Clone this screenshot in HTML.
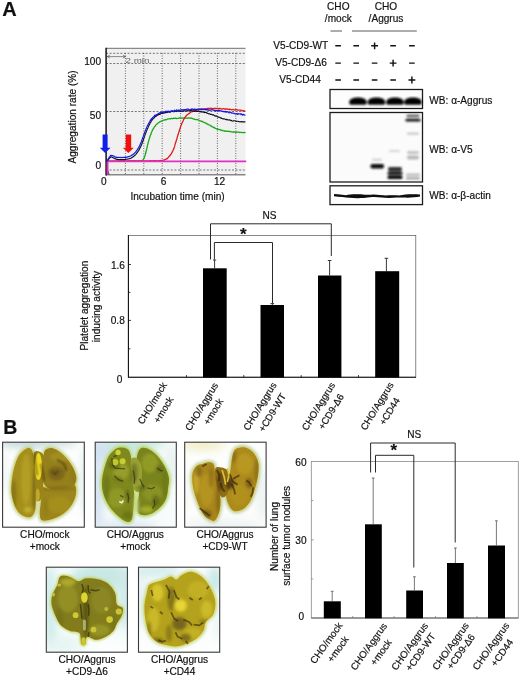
<!DOCTYPE html>
<html><head><meta charset="utf-8"><title>Figure</title>
<style>
html,body{margin:0;padding:0;background:#fff;}
body{width:520px;height:676px;overflow:hidden;}
svg{display:block;}
text{font-family:"Liberation Sans",sans-serif;fill:#111;stroke:#111;stroke-width:0.18px;}
.t{font-size:10.1px;}
.s{font-size:9.6px;}
</style></head><body>
<svg width="520" height="676" viewBox="0 0 520 676">
<defs>
<filter id="b1" x="-20%" y="-20%" width="140%" height="140%"><feGaussianBlur stdDeviation="0.9"/></filter>
<filter id="b2" x="-20%" y="-20%" width="140%" height="140%"><feGaussianBlur stdDeviation="1.6"/></filter>
<filter id="b05" x="-20%" y="-20%" width="140%" height="140%"><feGaussianBlur stdDeviation="0.5"/></filter>
<filter id="b03" x="-5%" y="-5%" width="110%" height="110%"><feGaussianBlur stdDeviation="0.3"/></filter>
</defs>
<rect width="520" height="676" fill="#fff"/>

<!-- ===== Panel letters ===== -->
<text x="2.200" y="16" font-size="20" font-weight="bold" fill="#000" stroke="#000" stroke-width="0.600" stroke-linejoin="round">A</text>
<text x="3.200" y="434.200" font-size="19.5" font-weight="bold" fill="#000" stroke="#000" stroke-width="0.400" stroke-linejoin="round">B</text>

<!-- ===== A: aggregation trace ===== -->
<g id="agg">
<rect x="106" y="48" width="139.5" height="127" fill="#f0f0f0"/>
<g stroke="#555" stroke-width="0.8" stroke-dasharray="2 1.6" fill="none">
<path d="M106 53.300H245.5M106 63.500H245.5M106 111.5H245.5M106 170H245.5"/>
</g>
<g stroke="#444" stroke-width="0.8" stroke-dasharray="1 1.5" fill="none">
<path d="M125.4 53V175M143.8 53V175M162.2 53V175M180.6 53V175M199 53V175M217.4 53V175M235.8 53V175"/>
</g>
<path d="M106 48.400H245.5" stroke="#8a8a8a" stroke-width="1.4" fill="none"/>
<path d="M106 174.800H245.5" stroke="#888" stroke-width="1.500" fill="none"/>
<path d="M106.100 47.700V175.500" stroke="#111" stroke-width="1.5" fill="none"/>
<!-- 2 min marker -->
<path d="M107.200 56.600H125.600M107.200 56.600l2.600-1.400M107.200 56.600l2.600 1.400M125.600 56.600l-2.600-1.400M125.600 56.600l-2.600 1.400" stroke="#444" stroke-width="0.600" fill="none"/>
<text x="125.500" y="63.200" font-size="8" style="fill:#666;stroke:none" textLength="24" lengthAdjust="spacingAndGlyphs">2 min</text>
<!-- traces -->
<g fill="none" stroke-linejoin="round" stroke-linecap="round">
<path d="M106.5 173.5 L108 171 L109 174.5" stroke="#223" stroke-width="0.9"/>
<path id="grn" d="M106.5 161.3L107.2 161.2L107.9 161.3L108.6 161.2L109.3 161.3L110.0 161.2L110.7 161.2L111.4 161.3L112.1 161.1L112.8 161.2L113.5 161.1L114.2 161.1L114.9 161.2L115.7 161.3L116.4 161.1L117.1 161.1L117.8 161.2L118.5 161.3L119.2 161.2L119.9 161.2L120.6 161.3L121.3 161.1L122.0 161.3L122.7 161.1L123.4 161.1L124.1 161.1L124.8 161.1L125.5 161.2L126.2 161.1L126.9 161.1L127.6 161.1L128.3 161.1L129.0 161.1L129.7 161.0L130.4 161.0L131.1 161.0L131.8 161.1L132.6 161.1L133.3 161.0L134.0 161.1L134.7 161.0L135.4 161.0L136.1 161.1L136.8 161.1L137.5 161.0L138.2 161.0L138.9 161.0L139.6 161.1L140.3 161.1L141.0 160.9L141.4 161.0L141.7 160.7L142.1 160.6L142.4 160.5L142.7 160.0L143.0 159.8L143.3 159.4L143.5 159.2L143.8 158.8L144.0 158.3L144.2 157.9L144.4 157.3L144.6 156.8L144.8 156.2L145.0 155.6L145.2 155.0L145.4 154.4L145.6 153.8L145.7 153.0L145.9 152.3L146.1 151.4L146.3 150.8L146.5 150.0L146.7 149.4L146.8 148.6L147.0 147.8L147.1 147.1L147.3 146.5L147.4 145.6L147.6 145.0L147.8 144.3L147.9 143.6L148.1 142.9L148.3 142.5L148.4 141.7L148.6 141.1L148.8 140.5L149.0 140.0L149.1 139.2L149.3 138.7L149.5 138.1L149.7 137.6L149.8 137.0L150.0 136.6L150.2 135.7L150.4 135.2L150.6 134.7L150.8 134.5L151.0 134.0L151.2 133.0L151.4 132.5L151.6 132.1L151.8 131.6L152.0 131.3L152.2 130.9L152.4 130.3L152.6 129.7L152.8 129.6L153.0 129.1L153.2 128.8L153.5 128.7L153.7 128.2L153.9 127.7L154.1 127.4L154.3 127.1L154.6 126.4L154.8 126.6L155.0 126.2L155.3 126.0L155.5 125.7L155.8 125.2L156.0 124.9L156.4 124.4L156.7 124.4L157.1 123.7L157.5 123.4L158.0 123.1L158.4 122.8L158.8 122.6L159.2 122.2L159.7 121.9L160.2 121.7L160.6 121.4L161.1 121.3L161.6 120.9L162.1 121.2L162.6 120.8L163.1 120.3L163.6 120.2L164.2 120.1L164.7 119.9L165.3 119.6L165.8 119.9L166.4 119.8L166.9 119.4L167.5 119.2L168.1 118.9L168.7 118.8L169.3 118.8L169.9 118.7L170.5 118.9L171.1 118.5L171.7 118.3L172.4 118.8L173.0 118.5L173.8 118.2L174.5 118.4L175.3 118.1L176.0 118.3L176.8 118.5L177.5 118.4L178.3 118.3L179.0 118.0L179.7 118.0L180.4 117.8L181.1 118.2L181.8 118.0L182.5 118.1L183.2 117.8L183.9 117.8L184.6 118.1L185.3 118.2L186.0 118.2L186.6 118.2L187.3 118.2L188.0 118.2L188.7 117.9L189.3 118.2L190.0 118.1L190.7 118.0L191.3 118.1L192.0 118.4L192.6 118.5L193.2 118.9L193.8 119.1L194.3 119.0L194.9 119.4L195.5 119.6L196.0 119.7L196.6 119.5L197.1 119.6L197.7 119.7L198.2 119.9L198.7 120.1L199.2 120.5L199.8 120.8L200.3 121.0L200.8 120.9L201.3 121.2L201.8 121.5L202.3 121.3L202.8 121.8L203.2 122.2L203.7 122.3L204.2 122.5L204.7 122.6L205.1 122.6L205.6 123.2L206.1 123.2L206.5 123.7L207.0 124.0L207.5 123.9L207.9 124.2L208.4 124.7L208.8 124.8L209.3 124.8L209.7 125.0L210.2 125.3L210.6 126.0L211.1 126.2L211.5 126.0L212.0 126.7L212.4 127.0L212.9 127.1L213.3 127.1L213.7 127.5L214.2 127.4L214.6 127.6L215.1 128.3L215.5 128.3L216.0 128.5L216.4 128.9L216.9 128.8L217.3 129.2L217.8 129.3L218.3 129.1L218.7 129.3L219.2 129.5L219.7 129.6L220.2 130.0L220.7 129.9L221.2 130.1L221.7 130.1L222.2 130.7L222.7 130.4L223.2 130.6L223.8 130.8L224.3 131.1L224.8 130.9L225.4 131.3L226.0 131.1L226.6 131.2L227.1 131.3L227.7 131.1L228.3 131.4L229.0 131.4L229.6 131.3L230.2 131.9L230.9 131.5L231.6 131.8L232.2 132.0L232.9 132.0L233.6 131.9L234.3 132.0L235.1 132.1L235.8 132.3L236.6 131.9L237.3 132.2L238.1 132.1L238.9 132.1L239.7 132.5L240.6 132.4L241.4 132.4L242.3 132.6L243.2 132.7L244.1 132.4L245.0 132.6" stroke="#18a818" stroke-width="1.3"/>
<path id="red" d="M106.5 161.2L107.2 161.2L107.9 161.2L108.6 161.2L109.3 161.2L110.0 161.2L110.7 161.3L111.4 161.2L112.1 161.2L112.8 161.3L113.5 161.1L114.2 161.2L114.9 161.2L115.7 161.2L116.4 161.0L117.1 161.0L117.8 161.1L118.5 161.0L119.2 161.0L119.9 161.0L120.6 161.1L121.3 161.2L122.0 161.2L122.7 161.0L123.4 161.1L124.1 161.1L124.8 161.0L125.5 161.1L126.2 161.2L126.9 161.0L127.6 161.2L128.3 161.0L129.0 161.0L129.7 161.1L130.4 161.1L131.1 160.9L131.8 161.0L132.5 161.0L133.2 161.0L134.0 160.9L134.7 160.9L135.4 161.0L136.1 160.9L136.8 161.0L137.5 161.0L138.2 160.8L138.9 160.9L139.6 161.0L140.3 161.0L141.0 160.8L141.7 161.1L142.4 161.0L143.1 161.0L143.8 160.8L144.5 160.9L145.2 160.8L145.9 161.0L146.6 160.8L147.3 160.8L148.0 160.9L148.7 161.0L149.4 161.0L150.1 160.7L150.8 160.7L151.6 161.1L152.3 160.9L153.0 161.0L153.7 160.6L154.4 160.6L155.1 160.9L155.8 160.8L156.5 160.6L157.2 161.1L157.9 160.9L158.6 161.0L159.3 160.6L160.0 161.0L160.5 160.5L160.9 161.0L161.4 160.7L161.8 160.5L162.3 160.6L162.7 160.7L163.1 160.2L163.5 160.0L164.0 160.2L164.4 159.9L164.8 159.6L165.1 159.5L165.5 159.2L165.9 159.1L166.3 159.0L166.7 158.7L167.0 158.8L167.4 158.2L167.8 158.0L168.1 157.5L168.5 157.3L168.8 156.7L169.1 156.5L169.5 156.0L169.8 156.0L170.1 155.4L170.5 154.7L170.8 154.4L171.1 154.2L171.5 153.1L171.8 153.0L172.1 152.2L172.4 151.6L172.7 151.1L173.1 150.2L173.4 149.5L173.7 148.9L174.0 148.3L174.2 147.3L174.4 147.0L174.6 146.4L174.8 145.7L174.9 145.0L175.1 144.4L175.3 143.6L175.5 143.1L175.7 142.4L175.9 142.2L176.1 141.3L176.2 140.7L176.4 140.0L176.6 139.9L176.8 139.3L176.9 138.6L177.1 137.8L177.3 137.1L177.5 136.6L177.7 136.1L177.8 135.3L178.0 134.9L178.2 134.2L178.4 134.0L178.5 133.4L178.7 132.6L178.9 131.9L179.1 131.7L179.3 130.8L179.4 130.2L179.6 129.5L179.8 129.1L180.0 128.6L180.2 128.1L180.4 127.4L180.5 127.0L180.7 126.2L180.9 125.8L181.1 125.2L181.3 124.9L181.5 124.2L181.7 123.7L181.9 123.4L182.1 122.8L182.3 122.6L182.5 122.1L182.7 121.8L182.9 121.3L183.1 120.9L183.3 120.5L183.5 119.8L183.7 119.4L183.9 119.4L184.2 118.5L184.4 118.5L184.6 118.0L184.8 117.3L185.1 117.5L185.3 117.2L185.5 116.7L185.8 116.4L186.0 116.2L186.4 115.4L186.7 115.3L187.1 114.9L187.5 114.7L187.9 114.4L188.3 114.1L188.7 113.6L189.1 113.5L189.6 113.1L190.0 112.9L190.5 112.3L190.9 112.0L191.4 111.8L191.9 111.7L192.4 111.3L192.9 111.6L193.4 111.2L193.9 111.1L194.4 110.9L194.9 110.8L195.5 110.5L196.0 110.1L196.6 110.4L197.1 110.2L197.7 109.9L198.2 109.8L198.8 109.8L199.4 109.3L200.0 109.6L200.6 109.2L201.2 109.0L201.8 109.0L202.4 109.2L203.0 108.8L203.4 109.1L203.9 109.2L204.3 108.9L204.8 108.8L205.3 108.8L205.7 108.9L206.2 108.9L206.7 108.8L207.2 108.7L207.7 108.4L208.2 108.4L208.7 108.4L209.2 108.7L209.7 108.4L210.3 108.6L210.8 108.2L211.4 108.3L211.9 108.4L212.5 108.6L213.1 108.6L213.6 108.6L214.2 108.4L214.8 108.5L215.4 108.5L216.0 108.5L216.7 108.3L217.3 108.8L217.9 108.4L218.6 108.9L219.2 108.9L219.9 108.4L220.5 108.7L221.2 108.9L221.9 109.1L222.6 108.8L223.3 108.7L224.0 108.7L224.7 109.2L225.5 108.8L226.2 109.1L227.0 108.9L227.7 109.2L228.5 109.5L229.3 109.1L230.1 109.6L230.9 109.5L231.7 109.8L232.5 109.7L233.3 109.5L234.2 110.0L235.0 109.8L235.9 109.7L236.7 109.7L237.6 110.1L238.5 110.2L239.4 110.2L240.3 110.2L241.2 110.4L242.1 110.5L243.1 111.0L244.0 110.6L245.0 111.2" stroke="#e01818" stroke-width="1.3"/>
<path d="M107.600 174 V161.300 H245.5" stroke="#e030c4" stroke-width="1.800"/>
<path id="blk" d="M106.5 161.3L106.9 160.9L107.3 160.8L107.6 160.4L108.0 160.0L108.4 159.4L108.8 159.0L109.1 158.5L109.5 158.3L109.9 157.8L110.2 157.4L110.6 157.2L111.0 156.9L111.5 156.9L112.0 157.1L112.5 157.5L112.9 157.6L113.4 158.0L113.9 158.1L114.4 158.4L114.9 158.8L115.5 158.9L116.2 159.1L117.0 159.4L117.7 159.4L118.3 159.5L119.0 159.5L119.7 159.6L120.4 159.6L121.1 159.5L121.8 159.6L122.5 159.4L123.1 159.6L123.8 159.5L124.5 159.6L125.2 159.5L125.9 159.3L126.6 159.2L127.2 159.3L127.9 159.0L128.5 159.0L129.1 158.8L129.7 158.6L130.3 158.5L130.9 158.3L131.5 157.8L132.0 157.6L132.4 157.3L132.8 157.1L133.1 156.8L133.5 156.5L133.8 156.2L134.2 155.9L134.5 155.8L134.8 155.4L135.2 155.0L135.5 154.9L135.8 154.5L136.1 154.0L136.4 153.6L136.7 153.2L137.0 152.8L137.3 152.5L137.6 152.1L137.8 151.7L138.1 151.3L138.4 150.9L138.6 150.6L138.9 150.1L139.2 149.6L139.4 149.1L139.7 148.7L139.9 148.1L140.2 147.6L140.4 147.1L140.7 146.6L140.9 146.3L141.1 145.5L141.4 145.1L141.6 144.6L141.8 144.1L142.1 143.3L142.3 142.7L142.5 142.1L142.8 141.6L143.0 141.0L143.2 140.4L143.5 139.7L143.7 139.0L143.9 138.1L144.2 137.5L144.4 137.0L144.6 136.4L144.8 135.7L145.0 135.1L145.3 134.3L145.5 133.8L145.7 133.4L145.9 132.8L146.1 132.2L146.3 131.7L146.6 130.9L146.8 130.3L147.0 129.8L147.2 129.4L147.4 128.9L147.6 128.5L147.9 127.9L148.1 127.4L148.3 126.9L148.5 126.4L148.7 125.9L149.0 125.3L149.2 125.1L149.4 124.5L149.6 124.3L149.9 123.8L150.1 123.2L150.3 122.6L150.6 122.3L150.8 122.2L151.0 121.9L151.3 121.1L151.5 120.7L151.8 120.6L152.0 120.3L152.3 119.8L152.5 119.4L152.8 119.3L153.0 118.6L153.3 118.4L153.6 118.2L153.9 118.3L154.1 117.8L154.4 117.6L154.7 117.1L155.0 116.6L155.4 116.3L155.9 116.5L156.3 116.1L156.8 115.5L157.2 115.1L157.7 115.2L158.2 115.0L158.6 114.6L159.1 114.3L159.6 114.4L160.1 114.4L160.6 113.7L161.1 113.4L161.7 113.4L162.2 113.3L162.7 113.4L163.3 112.9L163.8 113.2L164.4 113.0L164.9 112.7L165.5 112.4L166.1 112.8L166.7 112.2L167.2 112.5L167.8 112.0L168.4 111.9L169.1 112.2L169.7 111.8L170.3 112.2L170.9 111.8L171.6 111.5L172.2 111.5L172.8 111.5L173.5 111.7L174.2 111.8L174.8 111.2L175.5 111.3L176.2 111.2L176.9 111.6L177.6 111.0L178.3 110.9L179.0 110.9L179.8 111.1L180.6 111.4L181.4 111.3L182.1 111.2L182.9 111.3L183.6 111.2L184.4 110.8L185.1 110.7L185.8 111.2L186.5 111.0L187.2 110.5L187.9 111.0L188.6 110.8L189.3 110.8L189.9 110.7L190.6 110.6L191.3 110.5L191.9 110.8L192.6 110.8L193.2 111.3L193.9 110.7L194.5 111.4L195.1 110.9L195.8 111.1L196.4 111.4L197.0 111.5L197.7 111.3L198.3 111.1L198.9 111.5L199.5 111.5L200.2 112.0L200.8 111.5L201.4 111.8L202.1 112.2L202.7 111.7L203.4 112.1L204.0 112.5L204.6 112.6L205.2 112.3L205.9 112.5L206.5 112.6L207.1 113.4L207.6 113.1L208.2 113.6L208.8 113.9L209.4 113.7L209.9 113.8L210.5 114.5L211.0 114.4L211.6 114.4L212.1 114.9L212.7 114.8L213.2 114.9L213.7 114.9L214.2 115.6L214.8 115.9L215.3 115.9L215.8 116.3L216.3 115.9L216.8 116.2L217.3 116.6L217.8 117.1L218.3 117.3L218.7 117.0L219.2 117.1L219.7 117.4L220.2 117.7L220.7 118.1L221.2 117.8L221.6 118.4L222.1 118.5L222.6 118.7L223.1 118.9L223.5 118.9L224.0 118.9L224.7 119.0L225.4 119.2L226.1 119.7L226.7 119.4L227.4 119.6L228.1 120.1L228.7 119.9L229.4 119.9L230.0 120.0L230.6 120.5L231.2 120.4L231.9 121.0L232.5 121.0L233.1 121.2L233.7 120.7L234.3 120.7L234.9 120.8L235.5 121.1L236.1 121.4L236.7 121.2L237.2 121.2L237.8 121.3L238.4 121.5L239.0 121.6L239.6 121.7L240.2 121.9L240.8 121.8L241.4 121.5L242.0 122.0L242.6 121.7L243.2 121.9L243.8 121.8L244.4 122.1L245.0 121.8" stroke="#0c0c1c" stroke-width="1.1"/>
<path id="blu" d="M106.5 160.9L106.8 160.6L107.1 160.3L107.5 160.2L107.8 159.6L108.1 159.0L108.4 158.5L108.8 158.3L109.1 157.5L109.4 156.9L109.7 156.7L110.0 156.2L110.4 156.0L110.7 155.3L111.0 155.3L111.5 155.5L112.0 155.6L112.5 155.8L112.9 155.6L113.4 156.0L113.9 156.1L114.4 156.4L114.9 157.0L115.5 157.1L116.2 157.4L117.0 157.2L117.7 157.5L118.4 157.3L119.0 157.3L119.7 157.5L120.4 157.6L121.1 157.3L121.7 157.5L122.4 157.5L123.1 157.4L123.7 157.4L124.4 157.3L125.0 157.3L125.7 157.2L126.3 157.3L126.9 157.2L127.5 156.9L128.1 156.7L128.7 156.7L129.3 156.6L129.9 156.2L130.4 156.0L131.0 155.7L131.4 155.7L131.8 155.4L132.1 154.9L132.5 154.7L132.9 154.5L133.2 154.3L133.6 154.1L133.9 153.6L134.2 153.3L134.6 153.2L134.9 152.8L135.2 152.4L135.5 152.0L135.8 152.0L136.1 151.3L136.4 151.1L136.7 150.6L137.0 150.2L137.2 150.0L137.5 149.7L137.8 148.9L138.1 148.4L138.3 148.2L138.6 147.5L138.8 147.0L139.1 146.9L139.3 146.2L139.6 145.8L139.8 145.1L140.1 144.8L140.3 144.1L140.6 143.4L140.8 142.8L141.1 142.5L141.3 141.9L141.5 141.4L141.8 140.4L142.0 140.1L142.2 139.2L142.5 138.6L142.7 137.8L142.9 137.2L143.2 136.6L143.4 136.2L143.6 135.2L143.8 134.7L144.0 134.2L144.3 133.7L144.5 132.8L144.7 132.2L144.9 131.9L145.1 131.4L145.3 130.6L145.6 129.9L145.8 129.8L146.0 129.0L146.2 128.7L146.4 128.1L146.6 127.7L146.9 126.9L147.1 126.7L147.3 126.0L147.5 125.6L147.7 125.3L148.0 124.9L148.2 124.2L148.4 123.8L148.6 123.4L148.9 123.1L149.1 122.6L149.3 122.1L149.6 121.8L149.8 121.6L150.0 121.5L150.3 120.2L150.5 120.5L150.8 120.3L151.0 119.2L151.3 119.7L151.5 118.6L151.8 118.8L152.0 118.4L152.3 118.2L152.6 117.5L152.9 117.4L153.1 117.2L153.4 116.8L153.7 116.8L154.0 116.2L154.4 115.9L154.9 115.2L155.3 115.6L155.8 115.1L156.2 114.6L156.7 114.9L157.2 114.7L157.6 114.1L158.1 113.6L158.6 113.7L159.1 113.1L159.6 112.9L160.1 113.1L160.7 112.5L161.2 112.8L161.7 112.7L162.3 112.0L162.8 112.5L163.4 111.8L163.9 112.3L164.5 112.3L165.1 111.8L165.7 111.2L166.2 111.6L166.8 111.4L167.4 111.9L168.1 110.9L168.7 111.6L169.3 111.7L169.9 111.3L170.6 111.3L171.2 110.6L171.8 111.4L172.5 110.7L173.2 111.2L173.8 111.1L174.5 110.2L175.2 110.8L175.9 110.9L176.6 109.9L177.3 110.2L178.0 110.6L178.8 109.9L179.5 110.6L180.3 109.9L181.0 110.4L181.8 109.6L182.5 109.9L183.3 110.3L184.0 109.5L184.8 109.5L185.5 109.7L186.2 109.5L186.9 109.1L187.7 109.2L188.4 109.2L189.1 110.0L189.8 109.7L190.5 109.9L191.2 109.0L191.9 109.7L192.6 108.9L193.3 109.3L194.0 109.4L194.6 109.1L195.3 109.6L196.0 109.3L196.7 109.3L197.3 109.6L198.0 108.8L198.6 109.8L199.3 109.4L200.0 109.1L200.6 109.6L201.2 109.0L201.9 109.8L202.5 109.4L203.1 109.2L203.8 109.7L204.4 109.4L205.0 109.1L205.7 109.8L206.4 109.1L207.1 110.1L207.8 109.5L208.5 110.0L209.2 110.5L209.9 110.1L210.6 110.2L211.3 109.9L211.9 109.7L212.6 109.8L213.3 110.0L214.0 110.5L214.7 110.4L215.3 110.6L216.0 111.1L216.7 110.3L217.3 110.5L218.0 111.0L218.7 110.4L219.3 110.5L219.9 110.9L220.6 110.7L221.2 111.1L221.9 111.0L222.5 111.5L223.1 111.6L223.7 111.3L224.3 111.8L224.9 111.7L225.5 111.4L226.1 112.4L226.7 111.7L227.2 111.7L227.8 111.8L228.4 112.5L228.9 112.8L229.4 112.8L230.0 112.5L230.5 112.4L231.0 112.3L231.5 113.1L232.0 113.1L232.8 113.0L233.7 113.4L234.5 113.3L235.2 114.0L236.0 113.9L236.7 113.5L237.4 114.3L238.0 113.5L238.7 114.1L239.3 114.0L239.9 113.9L240.5 113.8L241.1 114.7L241.6 113.9L242.2 114.6L242.7 115.1L243.2 114.3L243.7 114.5L244.1 115.0L244.6 114.9L245.0 115.2" stroke="#1818e0" stroke-width="1.2"/>
</g>
<!-- arrows -->
<path d="M102.600 134.400H107.600V147.800H110.600L105.100 153L99.800 147.800H102.600Z" fill="#1020e8"/>
<path d="M125.700 134.400H131.200V147.800H133.700L128.300 153L122.900 147.800H125.700Z" fill="#f01010"/>
<!-- axis labels -->
<text class="t" x="101" y="65.400" text-anchor="end">100</text>
<text class="t" x="101" y="118.500" text-anchor="end">50</text>
<text class="t" x="101" y="168.500" text-anchor="end">0</text>
<text class="t" x="103.900" y="184.800" text-anchor="middle">0</text>
<text class="t" x="163.600" y="185" text-anchor="middle">6</text>
<text class="t" x="219.600" y="185" text-anchor="middle">12</text>
<text class="t" x="177.5" y="199.6" text-anchor="middle">Incubation time (min)</text>
<text class="t" transform="translate(76,117) rotate(-90)" text-anchor="middle">Aggregation rate (%)</text>
</g>

<!-- ===== A: western blot ===== -->
<g id="wb">
<text class="t" x="338.3" y="10" text-anchor="middle">CHO</text>
<text class="t" x="338.3" y="22.4" text-anchor="middle">/mock</text>
<text class="t" x="386" y="10" text-anchor="middle">CHO</text>
<text class="t" x="386" y="22.4" text-anchor="middle">/Aggrus</text>
<path d="M330.5 31H342" stroke="#5a5a5a" stroke-width="1" fill="none"/>
<path d="M352 31H416.800" stroke="#5a5a5a" stroke-width="1" fill="none"/>
<text class="t" x="328.3" y="49.3" text-anchor="end">V5-CD9-WT</text>
<text class="t" x="326.8" y="66.4" text-anchor="end">V5-CD9-Δ6</text>
<text class="t" x="320.8" y="83.4" text-anchor="end">V5-CD44</text>
<g stroke="#111" stroke-width="1.45" fill="none">
<path d="M335.3 45.8h5.6M353.4 45.8h5.6M371.2 45.8h6.8M374.6 42.4v6.8M390.3 45.8h5.6M409.1 45.8h5.6"/>
<path d="M335.3 63.1h5.6M353.4 63.1h5.6M371.8 63.1h5.6M389.7 63.1h6.8M393.1 59.7v6.8M409.1 63.1h5.6"/>
<path d="M335.3 80.0h5.6M353.4 80.0h5.6M371.8 80.0h5.6M390.3 80.0h5.6M408.5 80.0h6.8M411.9 76.6v6.8"/>
</g>
<!-- blot 1 -->
<rect x="330" y="89.5" width="92.5" height="19" fill="#fdfdfd" stroke="#1c1c1c" stroke-width="1.3"/>
<g filter="url(#b1)" fill="#030303">
<path d="M358.0 104.800 h-6.5 c-2.4 0 -2.6 -2.400 -2 -3.800 c0.8 -2.2 4 -3.400 8.500 -3.400 s7.700 1.200 8.500 3.400 c0.600 1.400 0.400 3.800 -2 3.800z"/>
<path d="M376.5 104.800 h-6.5 c-2.4 0 -2.6 -2.400 -2 -3.800 c0.8 -2.2 4 -3.400 8.500 -3.400 s7.700 1.200 8.500 3.400 c0.600 1.400 0.400 3.800 -2 3.800z"/>
<path d="M395.0 104.800 h-6.5 c-2.4 0 -2.6 -2.400 -2 -3.800 c0.8 -2.2 4 -3.400 8.500 -3.400 s7.700 1.200 8.500 3.400 c0.600 1.400 0.400 3.800 -2 3.800z"/>
<path d="M413.0 104.800 h-6.5 c-2.4 0 -2.6 -2.400 -2 -3.800 c0.8 -2.2 4 -3.400 8.500 -3.400 s7.700 1.200 8.500 3.400 c0.600 1.400 0.400 3.800 -2 3.800z"/>
</g>
<!-- blot 2 -->
<rect x="330" y="112.5" width="92.5" height="69.5" fill="#fbfbfb" stroke="#1c1c1c" stroke-width="1.3"/>
<g filter="url(#b1)">
<rect x="370.5" y="164" width="13.5" height="4.6" rx="1.8" fill="#0a0a0a"/>
<rect x="372" y="158.8" width="10" height="2" rx="1" fill="#ccc"/>
<rect x="389" y="150" width="11" height="2" rx="1" fill="#d4d4d4"/>
<rect x="388" y="167" width="14" height="4.5" rx="2" fill="#333"/>
<rect x="387.5" y="171.8" width="15" height="3" rx="1.5" fill="#111"/>
<rect x="387.5" y="175.6" width="15" height="3.4" rx="1.5" fill="#050505"/>
<rect x="406.5" y="114.6" width="13" height="2.6" rx="1.2" fill="#666"/>
<rect x="405.5" y="118.8" width="15" height="2.8" rx="1.2" fill="#111"/>
<rect x="407" y="132.8" width="12" height="1.8" rx="0.9" fill="#bbb"/>
<rect x="407" y="151" width="12" height="3" rx="1.4" fill="#c4c4c4"/>
<rect x="407" y="155.5" width="12" height="4" rx="1.8" fill="#b8b8b8"/>
<rect x="406" y="173.5" width="14" height="2.4" rx="1.2" fill="#bbb"/>
<rect x="406" y="177" width="14" height="2.6" rx="1.2" fill="#a8a8a8"/>
</g>
<!-- blot 3 -->
<rect x="330" y="185.8" width="92.5" height="18.8" fill="#fdfdfd" stroke="#1c1c1c" stroke-width="1.3"/>
<g filter="url(#b05)" fill="#080808">
<path d="M334 194 C338 194.200 342 195 346 195.200 C350 194.200 358 194 365 194.800 C368 195 370 194.600 373 194.400 C378 194.400 382 195.200 386 195.400 C390 195.200 394 195.200 399 195.400 C403 194.800 408 194.200 413 194.200 C416 194.200 418 194.400 420 194.600 L420 196.600 C416 197.200 410 197.800 405 197.600 C401 197.500 399 197.300 396 197.600 C390 198.200 386 198 382 197.500 C378 197.200 374 196.800 370 197.300 C364 198.200 356 198.400 350 197.800 C345 197.300 340 196.800 334 196.200 Z"/>
</g>
<text class="t" x="429.3" y="103.6">WB: α-Aggrus</text>
<text class="t" x="429.3" y="153">WB: α-V5</text>
<text class="t" x="429.3" y="198.6">WB: α-β-actin</text>
</g>

<!-- ===== A: bar chart ===== -->
<g id="barA">
<rect x="128.400" y="235.400" width="287.400" height="141.800" fill="none" stroke="#555" stroke-width="0.7"/>
<path d="M128.400 235V377.200H416" stroke="#111" stroke-width="1.100" fill="none"/>
<path d="M128.400 264.500h2.600M128.400 292.400h2M128.400 320.400h2.600M128.400 348.800h2" stroke="#111" stroke-width="0.8" fill="none"/>
<path d="M186.5 377.3v-2.2M243.8 377.3v-2.2M301.2 377.3v-2.2M358.5 377.3v-2.2" stroke="#111" stroke-width="0.8" fill="none"/>
<g fill="#000">
<rect x="203" y="268.3" width="23.7" height="109.2"/>
<rect x="260.5" y="305" width="23.5" height="72.5"/>
<rect x="318" y="275.5" width="23.4" height="102"/>
<rect x="375.2" y="271.2" width="24" height="106.3"/>
</g>
<g stroke="#222" stroke-width="0.9" fill="none">
<path d="M214.6 268.5V260M213 260h3.2"/>
<path d="M272.3 305V303.6M270.5 303.6h3.6"/>
<path d="M329.6 275.5V260.5M327.8 260.5h3.6"/>
<path d="M386.4 271.2V258.3M384.6 258.3h3.6"/>
</g>
<g stroke="#2a2a2a" stroke-width="1" fill="none">
<path d="M210.5 259.5V223.8H331.3V256"/>
<path d="M214.4 259.5V242.5H272.5V303"/>
</g>
<text class="t" x="269.5" y="218.6" text-anchor="middle">NS</text>
<text x="243.4" y="240" text-anchor="middle" font-size="17" font-weight="bold" fill="#000">*</text>
<text class="t" x="125" y="268.500" text-anchor="end">1.6</text>
<text class="t" x="124.800" y="324.200" text-anchor="end">0.8</text>
<text class="t" x="122.300" y="383" text-anchor="end">0</text>
<text class="t" transform="translate(88.300,305.600) rotate(-90)" text-anchor="middle">Platelet aggregation</text>
<text class="t" transform="translate(100.3,306.500) rotate(-90)" text-anchor="middle">inducing activity</text>
<g class="s" id="labA" text-anchor="middle">
<text transform="translate(155.1,404.9) rotate(-58.5)">CHO/mock</text>
<text transform="translate(166.3,411.5) rotate(-58.5)">+mock</text>
<text transform="translate(204.4,408.3) rotate(-58.5)">CHO/Aggrus</text>
<text transform="translate(216.0,413.4) rotate(-58.5)">+mock</text>
<text transform="translate(262.7,408.1) rotate(-58.5)">CHO/Aggrus</text>
<text transform="translate(275.0,414.3) rotate(-58.5)">+CD9-WT</text>
<text transform="translate(321.3,408.1) rotate(-58.5)">CHO/Aggrus</text>
<text transform="translate(333.8,413.4) rotate(-58.5)">+CD9-Δ6</text>
<text transform="translate(379.9,407.8) rotate(-58.5)">CHO/Aggrus</text>
<text transform="translate(392.3,413.0) rotate(-58.5)">+CD44</text>
</g>
</g>

<!-- ===== B: bar chart ===== -->
<g id="barB">
<rect x="311.3" y="461.5" width="207" height="156.5" fill="none" stroke="#888" stroke-width="0.8"/>
<path d="M311.3 618H518.3" stroke="#666" stroke-width="1.1" fill="none"/>
<path d="M311.3 500.6h2M311.3 539.8h2.4M311.3 578.9h2" stroke="#777" stroke-width="0.7" fill="none"/>
<path d="M352.7 618v-2M394.1 618v-2M435.5 618v-2M476.9 618v-2" stroke="#777" stroke-width="0.7" fill="none"/>
<g fill="#000">
<rect x="323.8" y="601.3" width="17" height="17"/>
<rect x="365" y="524.3" width="16.8" height="94"/>
<rect x="406.2" y="590.5" width="16.8" height="27.8"/>
<rect x="447" y="563" width="16.8" height="55.3"/>
<rect x="488" y="545.5" width="17" height="72.8"/>
</g>
<g stroke="#555" stroke-width="0.8" fill="none">
<path d="M332.2 601.3V591.3M330.8 591.3h2.8"/>
<path d="M373.2 524.3V478M371.8 478h2.8"/>
<path d="M414.4 590.5V576.8M413 576.8h2.8"/>
<path d="M455.4 563V548M454 548h2.8"/>
<path d="M496.4 545.5V520.8M495 520.8h2.8"/>
</g>
<g stroke="#2a2a2a" stroke-width="1" fill="none">
<path d="M370.6 472.5V443H455.2V542.5"/>
<path d="M375.500 472.5V455.300H413.8V567.5"/>
</g>
<text class="t" x="414.3" y="438" text-anchor="middle">NS</text>
<text x="393.9" y="456" text-anchor="middle" font-size="17" font-weight="bold" fill="#000">*</text>
<text class="t" x="306.5" y="466" text-anchor="end">60</text>
<text class="t" x="306.5" y="543.6" text-anchor="end">30</text>
<text class="t" x="304" y="619.6" text-anchor="end">0</text>
<text class="t" transform="translate(278.4,536.500) rotate(-90)" text-anchor="middle">Number of lung</text>
<text class="t" transform="translate(290,535.800) rotate(-90)" text-anchor="middle">surface tumor nodules</text>
<g id="labB" text-anchor="middle" font-size="9.8">
<text transform="translate(329.0,645.0) rotate(-54.5)">CHO/mock</text>
<text transform="translate(340.7,651.1) rotate(-54.5)">+mock</text>
<text transform="translate(371.5,648.5) rotate(-54.5)">CHO/Aggrus</text>
<text transform="translate(383.7,654.3) rotate(-54.5)">+mock</text>
<text transform="translate(412.4,648.3) rotate(-54.5)">CHO/Aggrus</text>
<text transform="translate(423.3,654.0) rotate(-54.5)">+CD9-WT</text>
<text transform="translate(453.3,648.2) rotate(-54.5)">CHO/Aggrus</text>
<text transform="translate(463.6,653.5) rotate(-54.5)">+CD9-Δ6</text>
<text transform="translate(493.7,648.2) rotate(-54.5)">CHO/Aggrus</text>
<text transform="translate(504.8,654.6) rotate(-54.5)">+CD44</text>
</g>
</g>
<g id="photos">
<!-- ===== B: lung photographs ===== -->
<defs>
<filter id="pb" x="-10%" y="-10%" width="120%" height="120%"><feGaussianBlur stdDeviation="0.6"/></filter>
<filter id="pb2" x="-30%" y="-30%" width="160%" height="160%"><feGaussianBlur stdDeviation="1.6"/></filter>
<filter id="pb3" x="-40%" y="-40%" width="180%" height="180%"><feGaussianBlur stdDeviation="4"/></filter>
<filter id="pbh" x="-20%" y="-20%" width="140%" height="140%"><feGaussianBlur stdDeviation="1.1"/></filter>
<clipPath id="c1"><rect x="2.6" y="442.2" width="81.7" height="85.0"/></clipPath>
<clipPath id="c2"><rect x="95.2" y="442.2" width="81.1" height="85.0"/></clipPath>
<clipPath id="c3"><rect x="184.7" y="442.2" width="81.4" height="85.0"/></clipPath>
<clipPath id="c4"><rect x="46.3" y="567.2" width="81.1" height="85.0"/></clipPath>
<clipPath id="c5"><rect x="138.5" y="567.2" width="81.2" height="85.0"/></clipPath>
</defs>
<g clip-path="url(#c1)">
<rect x="1" y="441" width="85" height="88" fill="#fdfefd"/>
<g filter="url(#pb3)"><ellipse cx="34.6" cy="441.5" rx="38.1" ry="6.9" fill="#c3dadc"/><ellipse cx="86.5" cy="481.2" rx="5.2" ry="34.6" fill="#dfecec"/><ellipse cx="1.7" cy="472.6" rx="3.8" ry="20.8" fill="#e9f1f2"/><ellipse cx="57.1" cy="441.5" rx="20.8" ry="5.2" fill="#cfe2e0"/></g>
<g filter="url(#pb2)" fill="none" stroke="#c4dcd4" stroke-width="5" opacity="0.7"><path d="M26.8 448.4C29.0 447.6 30.8 447.9 32.0 450.5C33.2 453.0 33.6 458.8 34.1 463.9C34.6 469.1 34.7 475.5 35.0 481.2C35.2 487.0 35.8 493.6 35.8 498.5C35.8 503.5 35.8 507.6 35.0 510.7C34.1 513.7 32.6 516.0 30.8 516.9C29.0 517.8 26.5 517.2 24.2 516.2C22.0 515.2 19.3 513.6 17.3 510.7C15.3 507.7 13.5 502.6 12.5 498.5C11.5 494.5 11.0 491.3 11.3 486.4C11.5 481.5 12.5 474.3 13.8 469.1C15.1 463.9 16.9 458.8 19.0 455.3C21.2 451.8 24.7 449.2 26.8 448.4Z"/><path d="M45.3 450.1C46.8 448.6 49.2 447.5 51.9 448.0C54.6 448.5 58.3 450.6 61.4 453.2C64.6 455.9 68.5 460.1 70.9 463.9C73.4 467.8 75.5 472.6 76.1 476.1C76.8 479.5 76.0 482.6 74.7 484.7C73.5 486.8 71.0 487.6 68.3 488.5C65.7 489.4 62.1 490.2 58.8 490.2C55.5 490.2 51.1 490.0 48.5 488.5C45.8 487.0 44.0 484.5 42.7 481.2C41.5 478.0 40.9 473.2 41.0 469.1C41.1 465.1 42.5 460.2 43.3 457.0C44.0 453.9 43.9 451.6 45.3 450.1Z"/><path d="M43.3 487.3C45.0 486.6 47.7 489.3 51.9 489.4C56.1 489.4 64.5 488.3 68.3 487.6C72.2 487.0 73.9 484.3 75.1 485.6C76.3 486.8 76.4 491.8 75.8 495.1C75.2 498.3 73.7 502.0 71.6 505.1C69.5 508.2 66.4 511.4 63.2 513.8C59.9 516.1 55.5 518.2 51.9 519.3C48.4 520.4 43.9 521.2 41.9 520.2C39.9 519.2 40.0 516.2 39.8 513.4C39.6 510.6 40.4 506.7 40.7 503.4C41.0 500.0 41.1 496.0 41.5 493.4C42.0 490.7 41.5 488.0 43.3 487.3Z"/></g>
<g filter="url(#pbh)" fill="none" stroke="#d6cc3c" stroke-width="2.2" opacity="0.9"><path d="M26.8 448.4C29.0 447.6 30.8 447.9 32.0 450.5C33.2 453.0 33.6 458.8 34.1 463.9C34.6 469.1 34.7 475.5 35.0 481.2C35.2 487.0 35.8 493.6 35.8 498.5C35.8 503.5 35.8 507.6 35.0 510.7C34.1 513.7 32.6 516.0 30.8 516.9C29.0 517.8 26.5 517.2 24.2 516.2C22.0 515.2 19.3 513.6 17.3 510.7C15.3 507.7 13.5 502.6 12.5 498.5C11.5 494.5 11.0 491.3 11.3 486.4C11.5 481.5 12.5 474.3 13.8 469.1C15.1 463.9 16.9 458.8 19.0 455.3C21.2 451.8 24.7 449.2 26.8 448.4Z"/><path d="M45.3 450.1C46.8 448.6 49.2 447.5 51.9 448.0C54.6 448.5 58.3 450.6 61.4 453.2C64.6 455.9 68.5 460.1 70.9 463.9C73.4 467.8 75.5 472.6 76.1 476.1C76.8 479.5 76.0 482.6 74.7 484.7C73.5 486.8 71.0 487.6 68.3 488.5C65.7 489.4 62.1 490.2 58.8 490.2C55.5 490.2 51.1 490.0 48.5 488.5C45.8 487.0 44.0 484.5 42.7 481.2C41.5 478.0 40.9 473.2 41.0 469.1C41.1 465.1 42.5 460.2 43.3 457.0C44.0 453.9 43.9 451.6 45.3 450.1Z"/><path d="M43.3 487.3C45.0 486.6 47.7 489.3 51.9 489.4C56.1 489.4 64.5 488.3 68.3 487.6C72.2 487.0 73.9 484.3 75.1 485.6C76.3 486.8 76.4 491.8 75.8 495.1C75.2 498.3 73.7 502.0 71.6 505.1C69.5 508.2 66.4 511.4 63.2 513.8C59.9 516.1 55.5 518.2 51.9 519.3C48.4 520.4 43.9 521.2 41.9 520.2C39.9 519.2 40.0 516.2 39.8 513.4C39.6 510.6 40.4 506.7 40.7 503.4C41.0 500.0 41.1 496.0 41.5 493.4C42.0 490.7 41.5 488.0 43.3 487.3Z"/></g>
<g filter="url(#pb)">
<path d="M33.7 454.4C34.8 449.5 38.0 451.1 39.8 451.8C41.6 452.6 44.1 453.9 44.6 458.8C45.2 463.7 43.5 475.8 43.3 481.2C43.0 486.7 43.5 488.7 43.3 491.6C43.0 494.5 42.3 497.0 41.5 498.5C40.7 500.1 39.5 501.3 38.4 501.1C37.3 501.0 35.9 501.0 35.1 497.7C34.3 494.4 34.0 488.5 33.7 481.2C33.5 474.0 32.7 459.3 33.7 454.4Z" fill="#9a8418"/>
<path d="M26.8 448.4C29.0 447.6 30.8 447.9 32.0 450.5C33.2 453.0 33.6 458.8 34.1 463.9C34.6 469.1 34.7 475.5 35.0 481.2C35.2 487.0 35.8 493.6 35.8 498.5C35.8 503.5 35.8 507.6 35.0 510.7C34.1 513.7 32.6 516.0 30.8 516.9C29.0 517.8 26.5 517.2 24.2 516.2C22.0 515.2 19.3 513.6 17.3 510.7C15.3 507.7 13.5 502.6 12.5 498.5C11.5 494.5 11.0 491.3 11.3 486.4C11.5 481.5 12.5 474.3 13.8 469.1C15.1 463.9 16.9 458.8 19.0 455.3C21.2 451.8 24.7 449.2 26.8 448.4Z" fill="#a48e1c"/>
<path d="M45.3 450.1C46.8 448.6 49.2 447.5 51.9 448.0C54.6 448.5 58.3 450.6 61.4 453.2C64.6 455.9 68.5 460.1 70.9 463.9C73.4 467.8 75.5 472.6 76.1 476.1C76.8 479.5 76.0 482.6 74.7 484.7C73.5 486.8 71.0 487.6 68.3 488.5C65.7 489.4 62.1 490.2 58.8 490.2C55.5 490.2 51.1 490.0 48.5 488.5C45.8 487.0 44.0 484.5 42.7 481.2C41.5 478.0 40.9 473.2 41.0 469.1C41.1 465.1 42.5 460.2 43.3 457.0C44.0 453.9 43.9 451.6 45.3 450.1Z" fill="#96801c"/>
<path d="M43.3 487.3C45.0 486.6 47.7 489.3 51.9 489.4C56.1 489.4 64.5 488.3 68.3 487.6C72.2 487.0 73.9 484.3 75.1 485.6C76.3 486.8 76.4 491.8 75.8 495.1C75.2 498.3 73.7 502.0 71.6 505.1C69.5 508.2 66.4 511.4 63.2 513.8C59.9 516.1 55.5 518.2 51.9 519.3C48.4 520.4 43.9 521.2 41.9 520.2C39.9 519.2 40.0 516.2 39.8 513.4C39.6 510.6 40.4 506.7 40.7 503.4C41.0 500.0 41.1 496.0 41.5 493.4C42.0 490.7 41.5 488.0 43.3 487.3Z" fill="#9c861c"/>
<ellipse cx="38.4" cy="466.5" rx="3.6" ry="13.5" fill="#ecd820"/>
<ellipse cx="37.7" cy="495.1" rx="2.1" ry="6.6" fill="#bfa82a"/>
</g>
<clipPath id="lc1"><path d="M26.8 448.4C29.0 447.6 30.8 447.9 32.0 450.5C33.2 453.0 33.6 458.8 34.1 463.9C34.6 469.1 34.7 475.5 35.0 481.2C35.2 487.0 35.8 493.6 35.8 498.5C35.8 503.5 35.8 507.6 35.0 510.7C34.1 513.7 32.6 516.0 30.8 516.9C29.0 517.8 26.5 517.2 24.2 516.2C22.0 515.2 19.3 513.6 17.3 510.7C15.3 507.7 13.5 502.6 12.5 498.5C11.5 494.5 11.0 491.3 11.3 486.4C11.5 481.5 12.5 474.3 13.8 469.1C15.1 463.9 16.9 458.8 19.0 455.3C21.2 451.8 24.7 449.2 26.8 448.4Z"/><path d="M45.3 450.1C46.8 448.6 49.2 447.5 51.9 448.0C54.6 448.5 58.3 450.6 61.4 453.2C64.6 455.9 68.5 460.1 70.9 463.9C73.4 467.8 75.5 472.6 76.1 476.1C76.8 479.5 76.0 482.6 74.7 484.7C73.5 486.8 71.0 487.6 68.3 488.5C65.7 489.4 62.1 490.2 58.8 490.2C55.5 490.2 51.1 490.0 48.5 488.5C45.8 487.0 44.0 484.5 42.7 481.2C41.5 478.0 40.9 473.2 41.0 469.1C41.1 465.1 42.5 460.2 43.3 457.0C44.0 453.9 43.9 451.6 45.3 450.1Z"/><path d="M43.3 487.3C45.0 486.6 47.7 489.3 51.9 489.4C56.1 489.4 64.5 488.3 68.3 487.6C72.2 487.0 73.9 484.3 75.1 485.6C76.3 486.8 76.4 491.8 75.8 495.1C75.2 498.3 73.7 502.0 71.6 505.1C69.5 508.2 66.4 511.4 63.2 513.8C59.9 516.1 55.5 518.2 51.9 519.3C48.4 520.4 43.9 521.2 41.9 520.2C39.9 519.2 40.0 516.2 39.8 513.4C39.6 510.6 40.4 506.7 40.7 503.4C41.0 500.0 41.1 496.0 41.5 493.4C42.0 490.7 41.5 488.0 43.3 487.3Z"/></clipPath>
<g filter="url(#pb2)" clip-path="url(#lc1)">
<ellipse cx="26.0" cy="479.5" rx="4.8" ry="26.0" fill="#b8a226" opacity="0.8"/>
<ellipse cx="13.8" cy="495.1" rx="2.4" ry="15.6" fill="#7c6a10" opacity="0.7"/>
<ellipse cx="34.3" cy="489.9" rx="1.6" ry="20.8" fill="#5c4c0c" opacity="0.6"/>
<ellipse cx="56.2" cy="473.5" rx="8.7" ry="7.3" fill="#76601a" opacity="0.8"/>
<ellipse cx="60.6" cy="457.0" rx="10.4" ry="4.8" fill="#a89424" opacity="0.7"/>
<ellipse cx="58.8" cy="488.5" rx="17.3" ry="1.9" fill="#786418" opacity="0.6"/>
<ellipse cx="58.8" cy="504.6" rx="12.1" ry="8.7" fill="#a8921f" opacity="0.7"/>
<ellipse cx="73.5" cy="475.2" rx="2.8" ry="9.5" fill="#8a7618" opacity="0.5"/>
<ellipse cx="45.9" cy="507.2" rx="2.4" ry="10.4" fill="#8a7616" opacity="0.5"/>
<ellipse cx="27.7" cy="509.8" rx="3.8" ry="2.8" fill="#cdbc3a" opacity="0.8"/>
</g>
<g filter="url(#pbh)" stroke="#3a2a0a" stroke-width="1.6" fill="none" opacity="0.7">
<path d="M34.1 451.8L35.5 463.9L37.2 475.2M51.9 471.7L55.4 474.3L58.0 470.9M57.1 459.6L64.0 463.9L66.6 470.9M40.7 463.9L43.3 474.3L44.1 481.2"/>
</g></g>
<rect x="2.6" y="442.2" width="81.7" height="85.0" fill="none" stroke="#3a3a3a" stroke-width="1.1"/>
<g clip-path="url(#c2)">
<rect x="94" y="441" width="84" height="88" fill="#f7fbfb"/>
<g filter="url(#pb3)"><ellipse cx="108.5" cy="449.9" rx="36.4" ry="11.6" fill="#d2e2f0"/><ellipse cx="97.0" cy="489.6" rx="6.6" ry="43.0" fill="#d4e2f0"/><ellipse cx="135.0" cy="443.3" rx="29.8" ry="6.6" fill="#c6ead6"/><ellipse cx="125.1" cy="526.0" rx="33.1" ry="5.0" fill="#dce8f2"/><ellipse cx="171.4" cy="464.8" rx="5.0" ry="19.8" fill="#e4f0ec"/></g>
<g filter="url(#pb2)" fill="none" stroke="#b4e0c0" stroke-width="5" opacity="0.7"><path d="M120.1 447.4C122.3 447.3 125.8 447.6 127.5 449.1C129.3 450.6 130.2 453.1 130.9 456.5C131.5 460.0 131.3 465.4 131.7 469.8C132.1 474.2 132.9 478.6 133.3 483.0C133.7 487.4 134.2 491.8 134.2 496.2C134.2 500.6 133.7 505.6 133.3 509.5C132.9 513.3 132.6 517.3 131.7 519.4C130.7 521.4 129.5 522.1 127.5 521.9C125.6 521.6 123.0 520.1 120.1 517.7C117.2 515.4 112.9 511.7 110.2 507.8C107.4 503.9 104.9 499.0 103.6 494.6C102.2 490.2 101.8 485.8 101.9 481.3C102.1 476.9 103.3 472.2 104.4 468.1C105.5 464.0 106.9 459.6 108.5 456.5C110.2 453.5 112.4 451.4 114.3 449.9C116.2 448.4 117.9 447.6 120.1 447.4Z"/><path d="M140.0 449.1C141.6 447.4 143.8 447.3 146.6 448.3C149.3 449.2 153.5 451.9 156.5 454.9C159.5 457.9 162.7 462.6 164.8 466.5C166.8 470.3 168.3 474.5 168.9 478.0C169.4 481.6 168.5 484.7 168.1 488.0C167.7 491.3 167.5 494.8 166.4 497.9C165.3 500.9 163.7 503.7 161.4 506.1C159.2 508.6 155.9 511.2 153.2 512.8C150.4 514.3 147.4 515.2 144.9 515.2C142.4 515.2 139.5 514.8 138.3 512.8C137.1 510.7 137.3 506.1 137.5 502.8C137.6 499.5 139.3 496.2 139.1 492.9C139.0 489.6 137.2 486.9 136.6 483.0C136.1 479.1 135.8 473.9 135.8 469.8C135.8 465.6 136.0 461.6 136.6 458.2C137.3 454.7 138.3 450.7 140.0 449.1Z"/></g>
<g filter="url(#pbh)" fill="none" stroke="#c6d234" stroke-width="2.4" opacity="0.9"><path d="M120.1 447.4C122.3 447.3 125.8 447.6 127.5 449.1C129.3 450.6 130.2 453.1 130.9 456.5C131.5 460.0 131.3 465.4 131.7 469.8C132.1 474.2 132.9 478.6 133.3 483.0C133.7 487.4 134.2 491.8 134.2 496.2C134.2 500.6 133.7 505.6 133.3 509.5C132.9 513.3 132.6 517.3 131.7 519.4C130.7 521.4 129.5 522.1 127.5 521.9C125.6 521.6 123.0 520.1 120.1 517.7C117.2 515.4 112.9 511.7 110.2 507.8C107.4 503.9 104.9 499.0 103.6 494.6C102.2 490.2 101.8 485.8 101.9 481.3C102.1 476.9 103.3 472.2 104.4 468.1C105.5 464.0 106.9 459.6 108.5 456.5C110.2 453.5 112.4 451.4 114.3 449.9C116.2 448.4 117.9 447.6 120.1 447.4Z"/><path d="M140.0 449.1C141.6 447.4 143.8 447.3 146.6 448.3C149.3 449.2 153.5 451.9 156.5 454.9C159.5 457.9 162.7 462.6 164.8 466.5C166.8 470.3 168.3 474.5 168.9 478.0C169.4 481.6 168.5 484.7 168.1 488.0C167.7 491.3 167.5 494.8 166.4 497.9C165.3 500.9 163.7 503.7 161.4 506.1C159.2 508.6 155.9 511.2 153.2 512.8C150.4 514.3 147.4 515.2 144.9 515.2C142.4 515.2 139.5 514.8 138.3 512.8C137.1 510.7 137.3 506.1 137.5 502.8C137.6 499.5 139.3 496.2 139.1 492.9C139.0 489.6 137.2 486.9 136.6 483.0C136.1 479.1 135.8 473.9 135.8 469.8C135.8 465.6 136.0 461.6 136.6 458.2C137.3 454.7 138.3 450.7 140.0 449.1Z"/></g>
<g filter="url(#pb)">
<path d="M120.1 447.4C122.3 447.3 125.8 447.6 127.5 449.1C129.3 450.6 130.2 453.1 130.9 456.5C131.5 460.0 131.3 465.4 131.7 469.8C132.1 474.2 132.9 478.6 133.3 483.0C133.7 487.4 134.2 491.8 134.2 496.2C134.2 500.6 133.7 505.6 133.3 509.5C132.9 513.3 132.6 517.3 131.7 519.4C130.7 521.4 129.5 522.1 127.5 521.9C125.6 521.6 123.0 520.1 120.1 517.7C117.2 515.4 112.9 511.7 110.2 507.8C107.4 503.9 104.9 499.0 103.6 494.6C102.2 490.2 101.8 485.8 101.9 481.3C102.1 476.9 103.3 472.2 104.4 468.1C105.5 464.0 106.9 459.6 108.5 456.5C110.2 453.5 112.4 451.4 114.3 449.9C116.2 448.4 117.9 447.6 120.1 447.4Z" fill="#7e881c"/>
<path d="M140.0 449.1C141.6 447.4 143.8 447.3 146.6 448.3C149.3 449.2 153.5 451.9 156.5 454.9C159.5 457.9 162.7 462.6 164.8 466.5C166.8 470.3 168.3 474.5 168.9 478.0C169.4 481.6 168.5 484.7 168.1 488.0C167.7 491.3 167.5 494.8 166.4 497.9C165.3 500.9 163.7 503.7 161.4 506.1C159.2 508.6 155.9 511.2 153.2 512.8C150.4 514.3 147.4 515.2 144.9 515.2C142.4 515.2 139.5 514.8 138.3 512.8C137.1 510.7 137.3 506.1 137.5 502.8C137.6 499.5 139.3 496.2 139.1 492.9C139.0 489.6 137.2 486.9 136.6 483.0C136.1 479.1 135.8 473.9 135.8 469.8C135.8 465.6 136.0 461.6 136.6 458.2C137.3 454.7 138.3 450.7 140.0 449.1Z" fill="#7a841c"/>
<path d="M130.9 459.8C131.7 456.8 134.9 457.1 136.6 458.2C138.4 459.3 140.8 462.6 141.6 466.5C142.4 470.3 142.0 477.2 141.6 481.3C141.2 485.5 140.4 489.9 139.1 491.3C137.9 492.6 135.4 492.1 134.2 489.6C132.9 487.1 132.2 481.3 131.7 476.4C131.1 471.4 130.0 462.9 130.9 459.8Z" fill="#98a034"/>
</g>
<clipPath id="lc2"><path d="M120.1 447.4C122.3 447.3 125.8 447.6 127.5 449.1C129.3 450.6 130.2 453.1 130.9 456.5C131.5 460.0 131.3 465.4 131.7 469.8C132.1 474.2 132.9 478.6 133.3 483.0C133.7 487.4 134.2 491.8 134.2 496.2C134.2 500.6 133.7 505.6 133.3 509.5C132.9 513.3 132.6 517.3 131.7 519.4C130.7 521.4 129.5 522.1 127.5 521.9C125.6 521.6 123.0 520.1 120.1 517.7C117.2 515.4 112.9 511.7 110.2 507.8C107.4 503.9 104.9 499.0 103.6 494.6C102.2 490.2 101.8 485.8 101.9 481.3C102.1 476.9 103.3 472.2 104.4 468.1C105.5 464.0 106.9 459.6 108.5 456.5C110.2 453.5 112.4 451.4 114.3 449.9C116.2 448.4 117.9 447.6 120.1 447.4Z"/><path d="M140.0 449.1C141.6 447.4 143.8 447.3 146.6 448.3C149.3 449.2 153.5 451.9 156.5 454.9C159.5 457.9 162.7 462.6 164.8 466.5C166.8 470.3 168.3 474.5 168.9 478.0C169.4 481.6 168.5 484.7 168.1 488.0C167.7 491.3 167.5 494.8 166.4 497.9C165.3 500.9 163.7 503.7 161.4 506.1C159.2 508.6 155.9 511.2 153.2 512.8C150.4 514.3 147.4 515.2 144.9 515.2C142.4 515.2 139.5 514.8 138.3 512.8C137.1 510.7 137.3 506.1 137.5 502.8C137.6 499.5 139.3 496.2 139.1 492.9C139.0 489.6 137.2 486.9 136.6 483.0C136.1 479.1 135.8 473.9 135.8 469.8C135.8 465.6 136.0 461.6 136.6 458.2C137.3 454.7 138.3 450.7 140.0 449.1Z"/><path d="M130.9 459.8C131.7 456.8 134.9 457.1 136.6 458.2C138.4 459.3 140.8 462.6 141.6 466.5C142.4 470.3 142.0 477.2 141.6 481.3C141.2 485.5 140.4 489.9 139.1 491.3C137.9 492.6 135.4 492.1 134.2 489.6C132.9 487.1 132.2 481.3 131.7 476.4C131.1 471.4 130.0 462.9 130.9 459.8Z"/></clipPath>
<g filter="url(#pb2)" clip-path="url(#lc2)">
<ellipse cx="120.9" cy="471.4" rx="7.9" ry="9.1" fill="#a0a62c" opacity="0.75"/>
<ellipse cx="116.8" cy="497.9" rx="9.1" ry="9.9" fill="#969e28" opacity="0.75"/>
<ellipse cx="106.5" cy="488.0" rx="3.0" ry="14.1" fill="#647012" opacity="0.6"/>
<ellipse cx="149.9" cy="463.2" rx="8.3" ry="9.9" fill="#9aa22a" opacity="0.75"/>
<ellipse cx="152.4" cy="492.9" rx="9.9" ry="8.3" fill="#8e9826" opacity="0.7"/>
<ellipse cx="165.1" cy="483.0" rx="3.0" ry="14.1" fill="#687412" opacity="0.6"/>
<ellipse cx="136.3" cy="506.1" rx="2.0" ry="11.6" fill="#eef4e8" opacity="0.75"/>
<ellipse cx="127.5" cy="515.2" rx="5.0" ry="4.0" fill="#5e6a10" opacity="0.6"/>
<ellipse cx="146.6" cy="509.5" rx="6.6" ry="3.6" fill="#b4bc2e" opacity="0.7"/>
<ellipse cx="114.3" cy="464.8" rx="5.6" ry="5.0" fill="#4a5410" opacity="0.55"/>
<ellipse cx="118.5" cy="478.9" rx="5.0" ry="2.3" fill="#4e5810" opacity="0.5" transform="rotate(20 118.5 478.9)"/>
<ellipse cx="127.1" cy="495.4" rx="2.3" ry="5.6" fill="#465010" opacity="0.5"/>
<ellipse cx="155.7" cy="500.4" rx="3.6" ry="5.6" fill="#465010" opacity="0.5"/>
<ellipse cx="159.0" cy="468.9" rx="3.6" ry="3.3" fill="#505a10" opacity="0.5"/>
<ellipse cx="134.2" cy="473.1" rx="3.3" ry="9.9" fill="#4a5212" opacity="0.5"/>
<ellipse cx="141.6" cy="488.0" rx="5.0" ry="2.6" fill="#48500f" opacity="0.45"/>
</g>
<g filter="url(#pb)">
<ellipse cx="118.1" cy="452.4" rx="2.6" ry="2.6" fill="#ccd22e"/><ellipse cx="115.1" cy="462.3" rx="3.3" ry="3.3" fill="#c2ca2a"/><ellipse cx="122.6" cy="461.2" rx="3.0" ry="3.0" fill="#c8ce2e"/>
<path d="M119.3 501.5L121.8 502.8L123.4 500.4" stroke="#f6f6e4" stroke-width="1.5" fill="none"/>
<g filter="url(#pb)" stroke="#26280a" stroke-width="1.3" fill="none" opacity="0.6">
<path d="M111.8 458.2L112.7 464.8L115.1 468.1L125.1 468.9M114.3 475.6L118.5 479.7L123.4 481.3M127.5 492.9L128.7 497.9L128.0 502.8M120.1 495.4L123.4 497.1M147.4 488.0L151.5 488.8L154.8 487.1M154.0 499.5L154.8 504.5L152.4 508.6M157.3 468.1L160.6 470.6L163.1 470.6M133.3 470.6L134.7 478.0L134.2 483.8M140.0 478.9L141.6 483.0L144.1 487.1M113.5 456.5L116.8 455.7"/>
</g></g></g>
<rect x="95.2" y="442.2" width="81.1" height="85.0" fill="none" stroke="#3a3a3a" stroke-width="1.1"/>
<g clip-path="url(#c3)">
<rect x="183" y="441" width="85" height="88" fill="#fdfdfb"/>
<g filter="url(#pb3)"><ellipse cx="202.2" cy="444.9" rx="22.5" ry="5.2" fill="#f0ecc4"/><ellipse cx="223.0" cy="525.4" rx="38.1" ry="5.2" fill="#ebf1f2"/><ellipse cx="262.8" cy="495.1" rx="5.2" ry="26.0" fill="#eaf1f2"/><ellipse cx="184.9" cy="489.9" rx="3.5" ry="20.8" fill="#f3f5f0"/></g>
<g filter="url(#pb2)" fill="none" stroke="#bcd8c8" stroke-width="5" opacity="0.8"><path d="M208.3 462.2C210.2 462.2 212.3 462.2 213.5 463.9C214.6 465.7 214.5 468.8 215.2 472.6C215.9 476.3 216.9 482.1 217.8 486.4C218.7 490.8 220.1 494.5 220.4 498.5C220.7 502.6 220.4 507.1 219.5 510.7C218.7 514.3 216.9 518.7 215.2 520.2C213.5 521.6 211.3 520.6 209.1 519.3C207.0 518.0 204.4 515.9 202.2 512.4C200.1 508.9 197.8 503.2 196.2 498.5C194.6 493.9 193.3 489.0 192.7 484.7C192.1 480.4 192.0 475.8 192.7 472.6C193.4 469.4 195.4 467.1 197.0 465.7C198.6 464.2 200.4 464.5 202.2 463.9C204.1 463.4 206.4 462.2 208.3 462.2Z"/><path d="M236.8 448.4C238.8 447.5 242.6 446.6 245.5 447.5C248.4 448.4 252.0 450.8 254.1 453.6C256.3 456.3 257.9 459.9 258.5 463.9C259.0 468.0 258.3 473.2 257.6 477.8C256.9 482.4 255.4 487.6 254.1 491.6C252.8 495.7 251.8 499.0 249.8 502.0C247.8 505.0 244.8 508.4 242.0 509.8C239.3 511.2 235.7 511.7 233.4 510.7C231.1 509.7 229.5 506.6 228.2 503.7C226.9 500.9 225.9 496.8 225.6 493.4C225.3 489.9 225.7 486.4 226.4 483.0C227.2 479.5 229.0 476.3 229.9 472.6C230.8 468.8 231.1 463.8 231.6 460.5C232.2 457.2 232.5 454.7 233.4 452.7C234.2 450.7 234.8 449.2 236.8 448.4Z"/></g>
<g filter="url(#pbh)" fill="none" stroke="#dcc838" stroke-width="2" opacity="0.85"><path d="M208.3 462.2C210.2 462.2 212.3 462.2 213.5 463.9C214.6 465.7 214.5 468.8 215.2 472.6C215.9 476.3 216.9 482.1 217.8 486.4C218.7 490.8 220.1 494.5 220.4 498.5C220.7 502.6 220.4 507.1 219.5 510.7C218.7 514.3 216.9 518.7 215.2 520.2C213.5 521.6 211.3 520.6 209.1 519.3C207.0 518.0 204.4 515.9 202.2 512.4C200.1 508.9 197.8 503.2 196.2 498.5C194.6 493.9 193.3 489.0 192.7 484.7C192.1 480.4 192.0 475.8 192.7 472.6C193.4 469.4 195.4 467.1 197.0 465.7C198.6 464.2 200.4 464.5 202.2 463.9C204.1 463.4 206.4 462.2 208.3 462.2Z"/><path d="M236.8 448.4C238.8 447.5 242.6 446.6 245.5 447.5C248.4 448.4 252.0 450.8 254.1 453.6C256.3 456.3 257.9 459.9 258.5 463.9C259.0 468.0 258.3 473.2 257.6 477.8C256.9 482.4 255.4 487.6 254.1 491.6C252.8 495.7 251.8 499.0 249.8 502.0C247.8 505.0 244.8 508.4 242.0 509.8C239.3 511.2 235.7 511.7 233.4 510.7C231.1 509.7 229.5 506.6 228.2 503.7C226.9 500.9 225.9 496.8 225.6 493.4C225.3 489.9 225.7 486.4 226.4 483.0C227.2 479.5 229.0 476.3 229.9 472.6C230.8 468.8 231.1 463.8 231.6 460.5C232.2 457.2 232.5 454.7 233.4 452.7C234.2 450.7 234.8 449.2 236.8 448.4Z"/></g>
<g filter="url(#pb)">
<path d="M208.3 462.2C210.2 462.2 212.3 462.2 213.5 463.9C214.6 465.7 214.5 468.8 215.2 472.6C215.9 476.3 216.9 482.1 217.8 486.4C218.7 490.8 220.1 494.5 220.4 498.5C220.7 502.6 220.4 507.1 219.5 510.7C218.7 514.3 216.9 518.7 215.2 520.2C213.5 521.6 211.3 520.6 209.1 519.3C207.0 518.0 204.4 515.9 202.2 512.4C200.1 508.9 197.8 503.2 196.2 498.5C194.6 493.9 193.3 489.0 192.7 484.7C192.1 480.4 192.0 475.8 192.7 472.6C193.4 469.4 195.4 467.1 197.0 465.7C198.6 464.2 200.4 464.5 202.2 463.9C204.1 463.4 206.4 462.2 208.3 462.2Z" fill="#a8861a"/>
<path d="M236.8 448.4C238.8 447.5 242.6 446.6 245.5 447.5C248.4 448.4 252.0 450.8 254.1 453.6C256.3 456.3 257.9 459.9 258.5 463.9C259.0 468.0 258.3 473.2 257.6 477.8C256.9 482.4 255.4 487.6 254.1 491.6C252.8 495.7 251.8 499.0 249.8 502.0C247.8 505.0 244.8 508.4 242.0 509.8C239.3 511.2 235.7 511.7 233.4 510.7C231.1 509.7 229.5 506.6 228.2 503.7C226.9 500.9 225.9 496.8 225.6 493.4C225.3 489.9 225.7 486.4 226.4 483.0C227.2 479.5 229.0 476.3 229.9 472.6C230.8 468.8 231.1 463.8 231.6 460.5C232.2 457.2 232.5 454.7 233.4 452.7C234.2 450.7 234.8 449.2 236.8 448.4Z" fill="#ac8a1c"/>
<path d="M215.2 469.1C215.9 466.0 219.1 467.1 221.3 467.4C223.4 467.7 226.7 468.3 228.2 470.9C229.6 473.5 230.2 478.9 229.9 483.0C229.6 487.0 227.9 492.8 226.4 495.1C225.0 497.4 222.8 498.3 221.3 496.8C219.7 495.4 217.9 491.1 216.9 486.4C215.9 481.8 214.5 472.3 215.2 469.1Z" fill="#8e6e18"/>
</g>
<clipPath id="lc3"><path d="M208.3 462.2C210.2 462.2 212.3 462.2 213.5 463.9C214.6 465.7 214.5 468.8 215.2 472.6C215.9 476.3 216.9 482.1 217.8 486.4C218.7 490.8 220.1 494.5 220.4 498.5C220.7 502.6 220.4 507.1 219.5 510.7C218.7 514.3 216.9 518.7 215.2 520.2C213.5 521.6 211.3 520.6 209.1 519.3C207.0 518.0 204.4 515.9 202.2 512.4C200.1 508.9 197.8 503.2 196.2 498.5C194.6 493.9 193.3 489.0 192.7 484.7C192.1 480.4 192.0 475.8 192.7 472.6C193.4 469.4 195.4 467.1 197.0 465.7C198.6 464.2 200.4 464.5 202.2 463.9C204.1 463.4 206.4 462.2 208.3 462.2Z"/><path d="M236.8 448.4C238.8 447.5 242.6 446.6 245.5 447.5C248.4 448.4 252.0 450.8 254.1 453.6C256.3 456.3 257.9 459.9 258.5 463.9C259.0 468.0 258.3 473.2 257.6 477.8C256.9 482.4 255.4 487.6 254.1 491.6C252.8 495.7 251.8 499.0 249.8 502.0C247.8 505.0 244.8 508.4 242.0 509.8C239.3 511.2 235.7 511.7 233.4 510.7C231.1 509.7 229.5 506.6 228.2 503.7C226.9 500.9 225.9 496.8 225.6 493.4C225.3 489.9 225.7 486.4 226.4 483.0C227.2 479.5 229.0 476.3 229.9 472.6C230.8 468.8 231.1 463.8 231.6 460.5C232.2 457.2 232.5 454.7 233.4 452.7C234.2 450.7 234.8 449.2 236.8 448.4Z"/><path d="M215.2 469.1C215.9 466.0 219.1 467.1 221.3 467.4C223.4 467.7 226.7 468.3 228.2 470.9C229.6 473.5 230.2 478.9 229.9 483.0C229.6 487.0 227.9 492.8 226.4 495.1C225.0 497.4 222.8 498.3 221.3 496.8C219.7 495.4 217.9 491.1 216.9 486.4C215.9 481.8 214.5 472.3 215.2 469.1Z"/></clipPath>
<g filter="url(#pb2)" clip-path="url(#lc3)">
<ellipse cx="206.6" cy="489.9" rx="6.9" ry="16.4" fill="#b89822" opacity="0.75"/>
<ellipse cx="196.2" cy="481.2" rx="2.8" ry="13.0" fill="#d0b430" opacity="0.7"/>
<ellipse cx="244.6" cy="463.9" rx="8.7" ry="10.4" fill="#bc9c24" opacity="0.75"/>
<ellipse cx="239.4" cy="495.1" rx="8.7" ry="10.4" fill="#b49420" opacity="0.7"/>
<ellipse cx="256.7" cy="470.9" rx="2.4" ry="12.1" fill="#7e6216" opacity="0.6"/>
<ellipse cx="218.1" cy="500.3" rx="2.1" ry="13.8" fill="#74560f" opacity="0.6"/>
<ellipse cx="205.7" cy="514.1" rx="6.2" ry="4.2" fill="#66480e" opacity="0.6"/>
<ellipse cx="229.9" cy="483.8" rx="4.2" ry="5.9" fill="#3c220a" opacity="0.7"/>
<ellipse cx="220.4" cy="481.2" rx="3.1" ry="9.5" fill="#4a2c0c" opacity="0.6"/>
<ellipse cx="198.4" cy="471.7" rx="3.1" ry="5.2" fill="#6a4810" opacity="0.5"/>
<ellipse cx="248.9" cy="483.3" rx="3.1" ry="5.2" fill="#5a3a0e" opacity="0.5"/>
<ellipse cx="234.2" cy="457.0" rx="2.1" ry="6.9" fill="#6e4e12" opacity="0.5"/>
<ellipse cx="210.9" cy="477.8" rx="2.4" ry="10.4" fill="#7a5a14" opacity="0.45"/>
</g>
<g filter="url(#pb)">
<path d="M222.1 470.0L224.4 477.8L225.6 484.7M227.3 468.3L229.0 475.2L227.3 482.1" stroke="#dcc432" stroke-width="1.6" fill="none"/>
<g filter="url(#pb)" stroke="#36200a" stroke-width="1.8" fill="none" opacity="0.65">
<path d="M229.9 474.3L232.5 481.2L237.7 484.7M233.4 478.7L239.4 475.2M231.6 483.8L234.2 489.9L235.1 494.2M216.9 470.0L219.5 475.2L218.7 481.2M220.4 483.0L222.1 488.2L224.7 491.6M246.3 480.4L248.9 482.1L251.5 486.4M199.6 508.1L204.0 511.5L210.0 515.9M202.2 466.5L206.6 463.9M253.3 487.3L252.4 493.4L250.7 496.8"/>
</g></g></g>
<rect x="184.7" y="442.2" width="81.4" height="85.0" fill="none" stroke="#3a3a3a" stroke-width="1.1"/>
<g clip-path="url(#c4)">
<rect x="45" y="566" width="84" height="88" fill="#f2fbfa"/>
<g filter="url(#pb3)"><ellipse cx="103.5" cy="577.3" rx="32.7" ry="13.5" fill="#c8e8e4"/><ellipse cx="49.6" cy="608.1" rx="7.7" ry="42.3" fill="#d0ecea"/><ellipse cx="124.6" cy="598.5" rx="7.7" ry="30.8" fill="#cfeae8"/><ellipse cx="109.2" cy="646.5" rx="23.1" ry="7.7" fill="#fdfefe"/><ellipse cx="63.1" cy="644.6" rx="15.4" ry="7.7" fill="#e6f4f2"/></g>
<g filter="url(#pbh)" fill="none" stroke="#c8cc38" stroke-width="2.2" opacity="0.9"><path d="M60.2 576.4C62.1 574.9 65.8 575.6 68.8 576.4C71.9 577.2 75.6 580.8 78.5 581.2C81.3 581.5 82.9 578.6 86.1 578.3C89.4 578.0 94.2 578.4 97.7 579.2C101.2 580.0 104.4 580.8 107.3 583.1C110.2 585.3 113.4 589.2 115.0 592.7C116.6 596.2 115.6 601.7 116.9 604.2C118.2 606.8 121.9 606.2 122.7 608.1C123.5 610.0 122.7 613.2 121.7 615.8C120.8 618.3 118.4 620.9 116.9 623.5C115.5 626.0 115.0 628.9 113.1 631.2C111.1 633.4 108.3 635.5 105.4 636.9C102.5 638.4 98.8 639.8 95.8 639.8C92.7 639.8 88.9 636.1 87.1 636.9C85.3 637.7 86.1 643.5 85.2 644.6C84.2 645.7 82.3 645.6 81.3 643.7C80.4 641.7 81.2 635.2 79.4 633.1C77.7 631.0 73.8 632.4 70.8 631.2C67.7 629.9 63.7 628.0 61.1 625.4C58.6 622.8 57.0 619.3 55.4 615.8C53.8 612.3 52.0 607.8 51.5 604.2C51.1 600.7 51.5 597.8 52.5 594.6C53.5 591.4 56.0 588.1 57.3 585.0C58.6 582.0 58.3 577.8 60.2 576.4Z"/></g>
<g filter="url(#pb)"><path d="M60.2 576.4C62.1 574.9 65.8 575.6 68.8 576.4C71.9 577.2 75.6 580.8 78.5 581.2C81.3 581.5 82.9 578.6 86.1 578.3C89.4 578.0 94.2 578.4 97.7 579.2C101.2 580.0 104.4 580.8 107.3 583.1C110.2 585.3 113.4 589.2 115.0 592.7C116.6 596.2 115.6 601.7 116.9 604.2C118.2 606.8 121.9 606.2 122.7 608.1C123.5 610.0 122.7 613.2 121.7 615.8C120.8 618.3 118.4 620.9 116.9 623.5C115.5 626.0 115.0 628.9 113.1 631.2C111.1 633.4 108.3 635.5 105.4 636.9C102.5 638.4 98.8 639.8 95.8 639.8C92.7 639.8 88.9 636.1 87.1 636.9C85.3 637.7 86.1 643.5 85.2 644.6C84.2 645.7 82.3 645.6 81.3 643.7C80.4 641.7 81.2 635.2 79.4 633.1C77.7 631.0 73.8 632.4 70.8 631.2C67.7 629.9 63.7 628.0 61.1 625.4C58.6 622.8 57.0 619.3 55.4 615.8C53.8 612.3 52.0 607.8 51.5 604.2C51.1 600.7 51.5 597.8 52.5 594.6C53.5 591.4 56.0 588.1 57.3 585.0C58.6 582.0 58.3 577.8 60.2 576.4Z" fill="#827c1e"/></g>
<clipPath id="lc4"><path d="M60.2 576.4C62.1 574.9 65.8 575.6 68.8 576.4C71.9 577.2 75.6 580.8 78.5 581.2C81.3 581.5 82.9 578.6 86.1 578.3C89.4 578.0 94.2 578.4 97.7 579.2C101.2 580.0 104.4 580.8 107.3 583.1C110.2 585.3 113.4 589.2 115.0 592.7C116.6 596.2 115.6 601.7 116.9 604.2C118.2 606.8 121.9 606.2 122.7 608.1C123.5 610.0 122.7 613.2 121.7 615.8C120.8 618.3 118.4 620.9 116.9 623.5C115.5 626.0 115.0 628.9 113.1 631.2C111.1 633.4 108.3 635.5 105.4 636.9C102.5 638.4 98.8 639.8 95.8 639.8C92.7 639.8 88.9 636.1 87.1 636.9C85.3 637.7 86.1 643.5 85.2 644.6C84.2 645.7 82.3 645.6 81.3 643.7C80.4 641.7 81.2 635.2 79.4 633.1C77.7 631.0 73.8 632.4 70.8 631.2C67.7 629.9 63.7 628.0 61.1 625.4C58.6 622.8 57.0 619.3 55.4 615.8C53.8 612.3 52.0 607.8 51.5 604.2C51.1 600.7 51.5 597.8 52.5 594.6C53.5 591.4 56.0 588.1 57.3 585.0C58.6 582.0 58.3 577.8 60.2 576.4Z"/></clipPath>
<g filter="url(#pb2)" clip-path="url(#lc4)">
<ellipse cx="67.9" cy="598.5" rx="10.0" ry="13.8" fill="#9a962a" opacity="0.75"/>
<ellipse cx="67.9" cy="582.1" rx="8.1" ry="3.8" fill="#b6b430" opacity="0.8"/>
<ellipse cx="101.5" cy="600.4" rx="10.0" ry="13.1" fill="#908c28" opacity="0.7"/>
<ellipse cx="99.6" cy="630.2" rx="10.0" ry="5.8" fill="#a09e26" opacity="0.7"/>
<ellipse cx="85.8" cy="611.9" rx="2.5" ry="26.0" fill="#4a460e" opacity="0.75"/>
<ellipse cx="59.2" cy="619.6" rx="4.2" ry="11.5" fill="#6e6c14" opacity="0.6"/>
<ellipse cx="114.0" cy="623.5" rx="3.5" ry="7.7" fill="#74721a" opacity="0.5"/>
</g>
<g filter="url(#pb)">
<ellipse cx="84.4" cy="597.5" rx="3.3" ry="5.2" fill="#dcd632"/>
<ellipse cx="75.6" cy="615.2" rx="2.9" ry="2.9" fill="#d0ca30"/><ellipse cx="93.5" cy="629.6" rx="2.9" ry="2.9" fill="#ccc62e"/><ellipse cx="109.6" cy="619.6" rx="3.3" ry="3.3" fill="#d2cc32"/><ellipse cx="118.8" cy="611.5" rx="3.1" ry="3.1" fill="#cac430"/><ellipse cx="106.3" cy="609.0" rx="2.1" ry="2.1" fill="#bcb82c"/>
<ellipse cx="83.5" cy="641.2" rx="2.3" ry="4.0" fill="#cac632"/>
<ellipse cx="53.5" cy="594.6" rx="1.5" ry="1.9" fill="#c4c234"/><ellipse cx="59.2" cy="585.0" rx="1.9" ry="1.5" fill="#c0be34"/>
<rect x="82.9" y="619.6" width="3" height="11" rx="1.5" fill="#a8b070"/>
<g filter="url(#pb)" stroke="#2a220a" stroke-width="1.5" fill="none" opacity="0.6">
<path d="M81.9 584.0L83.3 588.9L82.3 592.7M88.1 585.0L88.5 590.8L90.4 593.7M90.4 589.8L95.8 590.8L99.6 589.8M80.4 604.2L81.3 611.9L81.9 618.7M88.1 604.2L89.0 610.0L88.5 615.8M89.0 632.1L88.1 636.9"/>
</g></g></g>
<rect x="46.3" y="567.2" width="81.1" height="85.0" fill="none" stroke="#3a3a3a" stroke-width="1.1"/>
<g clip-path="url(#c5)">
<rect x="137" y="566" width="85" height="88" fill="#fcfefd"/>
<g filter="url(#pb3)"><ellipse cx="154.8" cy="570.9" rx="26.0" ry="6.9" fill="#d6ecec"/><ellipse cx="140.9" cy="602.1" rx="5.2" ry="27.7" fill="#e2f0f0"/><ellipse cx="215.3" cy="579.6" rx="8.7" ry="13.8" fill="#cbe8e8"/><ellipse cx="217.9" cy="621.1" rx="3.5" ry="20.8" fill="#e6f3f3"/></g>
<g filter="url(#pb2)" fill="none" stroke="#c8e4d8" stroke-width="5" opacity="0.7"><path d="M153.0 583.0C154.9 582.3 157.8 581.7 160.0 581.0C162.1 580.2 164.1 579.5 166.0 578.7C167.9 578.0 169.5 576.3 171.2 576.5C172.9 576.6 174.7 579.8 176.4 579.6C178.1 579.4 179.1 576.5 181.6 575.2C184.0 573.9 187.8 571.6 191.1 571.8C194.4 572.0 198.3 573.9 201.5 576.5C204.7 579.1 207.8 583.2 210.1 587.4C212.4 591.5 214.8 596.7 215.3 601.2C215.8 605.7 214.8 610.7 213.2 614.2C211.7 617.6 207.4 619.2 205.8 622.0C204.2 624.7 205.1 627.8 203.6 630.6C202.0 633.4 199.2 636.5 196.3 638.7C193.3 641.0 189.4 642.7 185.9 643.9C182.4 645.2 178.6 646.1 175.5 646.4C172.5 646.6 170.8 646.0 167.7 645.3C164.7 644.6 160.4 644.2 157.4 642.2C154.3 640.2 151.2 637.4 149.2 633.5C147.2 629.7 146.2 624.0 145.4 619.4C144.6 614.7 144.2 609.7 144.4 605.5C144.6 601.3 145.7 597.6 146.5 594.3C147.2 591.0 147.6 587.5 148.7 585.6C149.8 583.8 151.2 583.8 153.0 583.0Z"/></g>
<g filter="url(#pbh)" fill="none" stroke="#e0d43c" stroke-width="2.2" opacity="0.9"><path d="M153.0 583.0C154.9 582.3 157.8 581.7 160.0 581.0C162.1 580.2 164.1 579.5 166.0 578.7C167.9 578.0 169.5 576.3 171.2 576.5C172.9 576.6 174.7 579.8 176.4 579.6C178.1 579.4 179.1 576.5 181.6 575.2C184.0 573.9 187.8 571.6 191.1 571.8C194.4 572.0 198.3 573.9 201.5 576.5C204.7 579.1 207.8 583.2 210.1 587.4C212.4 591.5 214.8 596.7 215.3 601.2C215.8 605.7 214.8 610.7 213.2 614.2C211.7 617.6 207.4 619.2 205.8 622.0C204.2 624.7 205.1 627.8 203.6 630.6C202.0 633.4 199.2 636.5 196.3 638.7C193.3 641.0 189.4 642.7 185.9 643.9C182.4 645.2 178.6 646.1 175.5 646.4C172.5 646.6 170.8 646.0 167.7 645.3C164.7 644.6 160.4 644.2 157.4 642.2C154.3 640.2 151.2 637.4 149.2 633.5C147.2 629.7 146.2 624.0 145.4 619.4C144.6 614.7 144.2 609.7 144.4 605.5C144.6 601.3 145.7 597.6 146.5 594.3C147.2 591.0 147.6 587.5 148.7 585.6C149.8 583.8 151.2 583.8 153.0 583.0Z"/></g>
<g filter="url(#pb)"><path d="M153.0 583.0C154.9 582.3 157.8 581.7 160.0 581.0C162.1 580.2 164.1 579.5 166.0 578.7C167.9 578.0 169.5 576.3 171.2 576.5C172.9 576.6 174.7 579.8 176.4 579.6C178.1 579.4 179.1 576.5 181.6 575.2C184.0 573.9 187.8 571.6 191.1 571.8C194.4 572.0 198.3 573.9 201.5 576.5C204.7 579.1 207.8 583.2 210.1 587.4C212.4 591.5 214.8 596.7 215.3 601.2C215.8 605.7 214.8 610.7 213.2 614.2C211.7 617.6 207.4 619.2 205.8 622.0C204.2 624.7 205.1 627.8 203.6 630.6C202.0 633.4 199.2 636.5 196.3 638.7C193.3 641.0 189.4 642.7 185.9 643.9C182.4 645.2 178.6 646.1 175.5 646.4C172.5 646.6 170.8 646.0 167.7 645.3C164.7 644.6 160.4 644.2 157.4 642.2C154.3 640.2 151.2 637.4 149.2 633.5C147.2 629.7 146.2 624.0 145.4 619.4C144.6 614.7 144.2 609.7 144.4 605.5C144.6 601.3 145.7 597.6 146.5 594.3C147.2 591.0 147.6 587.5 148.7 585.6C149.8 583.8 151.2 583.8 153.0 583.0Z" fill="#b4a21a"/></g>
<clipPath id="lc5"><path d="M153.0 583.0C154.9 582.3 157.8 581.7 160.0 581.0C162.1 580.2 164.1 579.5 166.0 578.7C167.9 578.0 169.5 576.3 171.2 576.5C172.9 576.6 174.7 579.8 176.4 579.6C178.1 579.4 179.1 576.5 181.6 575.2C184.0 573.9 187.8 571.6 191.1 571.8C194.4 572.0 198.3 573.9 201.5 576.5C204.7 579.1 207.8 583.2 210.1 587.4C212.4 591.5 214.8 596.7 215.3 601.2C215.8 605.7 214.8 610.7 213.2 614.2C211.7 617.6 207.4 619.2 205.8 622.0C204.2 624.7 205.1 627.8 203.6 630.6C202.0 633.4 199.2 636.5 196.3 638.7C193.3 641.0 189.4 642.7 185.9 643.9C182.4 645.2 178.6 646.1 175.5 646.4C172.5 646.6 170.8 646.0 167.7 645.3C164.7 644.6 160.4 644.2 157.4 642.2C154.3 640.2 151.2 637.4 149.2 633.5C147.2 629.7 146.2 624.0 145.4 619.4C144.6 614.7 144.2 609.7 144.4 605.5C144.6 601.3 145.7 597.6 146.5 594.3C147.2 591.0 147.6 587.5 148.7 585.6C149.8 583.8 151.2 583.8 153.0 583.0Z"/></clipPath>
<g filter="url(#pb2)" clip-path="url(#lc5)">
<ellipse cx="157.4" cy="592.5" rx="5.9" ry="8.7" fill="#dccb2e" opacity="0.85"/>
<ellipse cx="153.4" cy="619.4" rx="5.9" ry="12.1" fill="#cfbd2a" opacity="0.8"/>
<ellipse cx="198.0" cy="590.0" rx="10.4" ry="9.0" fill="#c6b326" opacity="0.8"/>
<ellipse cx="206.7" cy="609.3" rx="5.9" ry="8.7" fill="#d2c02c" opacity="0.8"/>
<ellipse cx="192.8" cy="633.2" rx="8.7" ry="5.2" fill="#c8b628" opacity="0.75"/>
<ellipse cx="171.2" cy="598.6" rx="3.8" ry="12.1" fill="#665814" opacity="0.6"/>
<ellipse cx="179.3" cy="623.7" rx="7.3" ry="6.6" fill="#57471a" opacity="0.65"/>
<ellipse cx="169.0" cy="633.2" rx="3.1" ry="8.7" fill="#6a5a14" opacity="0.5"/>
<ellipse cx="157.4" cy="640.5" rx="6.2" ry="2.8" fill="#5a4a10" opacity="0.55"/>
<ellipse cx="149.2" cy="629.7" rx="2.1" ry="8.7" fill="#6a5a10" opacity="0.55"/>
<ellipse cx="185.9" cy="637.5" rx="5.2" ry="4.2" fill="#4a3a10" opacity="0.5"/>
<ellipse cx="204.1" cy="621.4" rx="5.5" ry="1.9" fill="#6a5a16" opacity="0.5"/>
<ellipse cx="180.7" cy="605.5" rx="6.2" ry="6.2" fill="#ead636" opacity="0.95"/>
</g>
<g filter="url(#pb)"><g filter="url(#pb)" stroke="#30220a" stroke-width="1.7" fill="none" opacity="0.6">
<path d="M166.0 584.8L169.5 591.7L168.6 598.6M173.8 590.0L176.4 596.9L179.3 599.5M171.2 612.4L174.1 618.5L178.1 621.1M183.3 619.4L189.0 622.0L192.0 625.4M175.5 632.3L177.6 636.7L182.4 638.7M189.4 597.7L192.8 600.0M198.9 599.5L201.8 597.7M150.4 606.4L153.0 608.1M158.2 640.1L162.6 641.9L166.0 640.5M206.7 589.1L208.7 586.1M185.9 641.0L188.0 643.9M193.7 624.6L199.4 625.4L203.2 622.5M151.3 590.0L152.7 596.0M160.0 611.6L162.6 614.2"/>
</g></g></g>
<rect x="138.5" y="567.2" width="81.2" height="85.0" fill="none" stroke="#3a3a3a" stroke-width="1.1"/>
<g class="t" text-anchor="middle">
<text x="44.8" y="537.600">CHO/mock</text><text x="44.8" y="549.8">+mock</text>
<text x="135.3" y="537.600">CHO/Aggrus</text><text x="135.3" y="549.8">+mock</text>
<text x="225" y="537.600">CHO/Aggrus</text><text x="225" y="549.8">+CD9-WT</text>
<text x="87" y="662.6">CHO/Aggrus</text><text x="87" y="675">+CD9-Δ6</text>
<text x="179.5" y="662.6">CHO/Aggrus</text><text x="179.5" y="675">+CD44</text>
</g>
</g>
<!--endphotos-->
</svg>
</body></html>
